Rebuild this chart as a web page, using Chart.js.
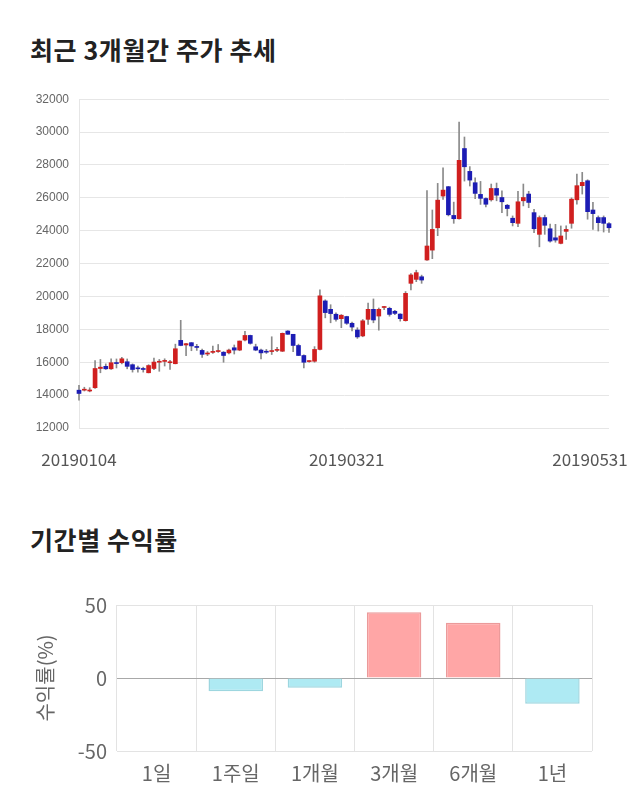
<!DOCTYPE html>
<html>
<head>
<meta charset="utf-8">
<script src="https://cdn.jsdelivr.net/npm/chart.js@4.4.1/dist/chart.umd.min.js"></script>
<style>
  body { margin: 0; background: #fff; width: 640px; height: 810px; position: relative; overflow: hidden;
         font-family: "Noto Sans CJK KR", sans-serif; }
  h2 { position: absolute; left: 30px; margin: 0; font-size: 25px; letter-spacing: 0.6px; line-height: 1; font-weight: 700; color: #222; }
  .box { position: absolute; left: 0; width: 640px; }
</style>
</head>
<body>
<h2 style="top:37px">최근 3개월간 주가 추세</h2>
<div class="box" style="top:82px;height:391px"><canvas id="price"></canvas></div>
<h2 style="top:527px">기간별 수익률</h2>
<div class="box" style="top:583px;height:208px"><canvas id="ret"></canvas></div>
<script>
// trading days 2019-01-04 .. 2019-05-31
const dates = [
  '20190104','20190107','20190108','20190109','20190110','20190111','20190114','20190115','20190116','20190117',
  '20190118','20190121','20190122','20190123','20190124','20190125','20190128','20190129','20190130','20190131',
  '20190201','20190207','20190208','20190211','20190212','20190213','20190214','20190215','20190218','20190219',
  '20190220','20190221','20190222','20190225','20190226','20190227','20190228','20190304','20190305','20190306',
  '20190307','20190308','20190311','20190312','20190313','20190314','20190315','20190318','20190319','20190320',
  '20190321','20190322','20190325','20190326','20190327','20190328','20190329','20190401','20190402','20190403',
  '20190404','20190405','20190408','20190409','20190410','20190411','20190412','20190415','20190416','20190417',
  '20190418','20190419','20190422','20190423','20190424','20190425','20190426','20190429','20190430','20190502',
  '20190503','20190507','20190508','20190509','20190510','20190513','20190514','20190515','20190516','20190517',
  '20190520','20190521','20190522','20190523','20190524','20190527','20190528','20190529','20190530','20190531'
];
const open = [
  14300,14300,14250,14450,15620,15750,15600,15970,15970,16030, 15850,15620,15580,15360,15620,16000,16050,15970,15910,17330,
  17050,17190,16920,16720,16500,16600,16650,16610,16570,16880, 16740,17350,17630,16940,16740,16630,16650,16720,16670,17900,
  17700,17020,16410,16040,16060,16780,19730,19220,18920,18650, 18780,18370,17960,17600,18610,19220,18810,19330,19280,19100,
  18930,18530,20800,21040,21200,22220,22820,24180,26110,26680, 24930,24730,29000,27610,26920,26210,25960,25880,26570,26020,
  25550,24760,24450,25820,26230,25100,23780,24800,24120,23570, 23230,23960,24450,25880,26740,27040,25260,24800,24800,24430
];
const high = [
  14600,14480,14450,16100,16170,15900,16200,16200,16300,16200, 15900,15770,15700,15850,16250,16170,16210,16110,17100,18550,
  17150,17200,17090,16800,16650,16980,17080,16650,16800,17050, 17290,17880,17650,17100,16800,16780,17550,16900,17780,17920,
  17700,17100,16450,16100,16950,20400,19800,19500,19000,18900, 18800,18450,18100,18600,19600,19850,19300,19400,19350,19150,
  18950,20300,21400,21600,21300,26440,25260,26880,27830,26700, 25740,30610,29700,27900,27220,27000,26000,26840,26900,26430,
  25600,24900,26390,26840,26400,25300,24900,24950,24400,24390, 24290,24300,26000,27450,27550,27100,25720,24900,24900,24500
];
const low = [
  13700,14250,14200,14400,15360,15560,15560,15650,15900,15600, 15400,15400,15400,15350,15550,15450,15770,15560,15900,17000,
  16400,16700,16720,16300,16400,16530,16600,16000,16500,16500, 16700,17300,17100,16700,16200,16530,16470,16650,16650,17700,
  16650,16400,15650,16000,16000,16750,18700,18400,18500,18100, 18300,17900,17450,17550,18300,18400,17950,19200,18800,18900,
  18500,18500,20400,20900,20800,22200,22300,23700,25900,24900, 24450,24700,27020,26720,25950,25600,25450,25800,25820,25100,
  24900,24290,24250,25510,25400,23880,23020,23780,23300,23300, 23200,23470,24150,25610,26230,24700,24080,23980,23920,23900
];
const close = [
  14100,14350,14300,15620,15700,15600,15970,15920,16210,15750, 15560,15600,15560,15800,16010,16010,16070,16000,16820,17020,
  17130,16990,16900,16480,16530,16620,16670,16410,16740,16740, 17290,17630,17150,16740,16570,16610,16670,16760,17760,17700,
  17020,16410,16000,16060,16780,20040,19020,18960,18610,18860, 18370,18140,17540,18520,19220,18570,19220,19340,18910,18970,
  18650,20190,21310,21450,21000,23070,24080,25860,26470,24970, 24730,28280,27890,27080,26270,25970,25610,26570,26160,25760,
  25350,24490,25760,26020,25720,24120,24800,24330,23370,23430, 23680,24080,25920,26740,26940,25160,25040,24490,24450,24180
];
const shownDates = ['20190104', '20190321', '20190531'];

const periods = ['1일', '1주일', '1개월', '3개월', '6개월', '1년'];
const returns = [0, -9.0, -6.6, 45.1, 37.8, -17.6];

const UP = '#d01f1f', DOWN = '#1c1cb4';
const kr = '"Noto Sans CJK KR", "Noto Sans", sans-serif';

const bodies = open.map((o, i) => [o, close[i]]);
const wicks = low.map((l, i) => [l, high[i]]);
const bodyColors = open.map((o, i) => close[i] >= o ? UP : DOWN);

new Chart(document.getElementById('price'), {
  type: 'bar',
  data: {
    labels: dates,
    datasets: [
      { data: bodies, backgroundColor: bodyColors, barThickness: 4, minBarLength: 1,
        grouped: false, clip: false, order: 0 },
      { data: wicks, backgroundColor: '#8a8a8a', barThickness: 1,
        grouped: false, clip: false, order: 1 }
    ]
  },
  options: {
    responsive: true,
    maintainAspectRatio: false,
    animation: false,
    layout: { padding: { left: 0, right: 31, top: 0, bottom: 0 } },
    plugins: { legend: { display: false }, tooltip: { enabled: false } },
    scales: {
      x: {
        offset: false,
        grid: { display: false },
        border: { display: false },
        ticks: {
          autoSkip: false, maxRotation: 0, minRotation: 0, padding: 13,
          color: '#555', font: { family: kr, size: 17 },
          callback: function (v) {
            const d = this.getLabelForValue(v);
            if (!shownDates.includes(d)) return '';
            // last date sits at the right edge, pull it back inside
            return d === dates[dates.length - 1] ? d + '\u00a0'.repeat(10) : d;
          }
        },
        afterFit: s => { s.paddingLeft = 0; s.paddingRight = 0; s.height = 45; }
      },
      y: {
        min: 12000, max: 32000,
        ticks: { stepSize: 2000, padding: 10, color: '#666',
                 font: { family: '"Liberation Sans", Arial, sans-serif', size: 12 },
                 callback: v => String(v) },
        grid: { color: '#e6e6e6', drawTicks: false },
        border: { color: '#e6e6e6' },
        afterFit: s => { s.width = 79; }
      }
    }
  }
});

new Chart(document.getElementById('ret'), {
  type: 'bar',
  data: {
    labels: periods,
    datasets: [{
      data: returns,
      backgroundColor: returns.map(v => v >= 0 ? '#ffa6a6' : '#aeeaf3'),
      borderColor: returns.map(v => v >= 0 ? '#eb9a9a' : '#9dd6df'),
      borderWidth: 1.5,
      barPercentage: 0.86,
      categoryPercentage: 0.8
    }]
  },
  options: {
    responsive: true,
    maintainAspectRatio: false,
    animation: false,
    layout: { padding: { left: 30, right: 48, top: 15, bottom: 0 } },
    plugins: { legend: { display: false }, tooltip: { enabled: false } },
    scales: {
      x: {
        grid: { color: c => c.index >= periods.length ? 'rgba(0,0,0,0)' : '#e3e3e3', drawTicks: false },
        border: { display: false },
        ticks: { padding: 10, color: '#666', font: { family: kr, size: 20 } },
        afterFit: s => { s.height = 40; }
      },
      y: {
        min: -50, max: 50,
        ticks: { stepSize: 50, padding: 10, color: '#666', font: { family: kr, size: 20 } },
        grid: { color: c => c.tick && c.tick.value === 0 ? '#a8a8a8' : '#e3e3e3', drawTicks: false },
        border: { display: false },
        title: { display: true, text: '수익률(%)', color: '#666', font: { family: kr, size: 20 }, padding: 3 },
        afterFit: s => { s.width = 87; }
      }
    }
  }
});
</script>
</body>
</html>
